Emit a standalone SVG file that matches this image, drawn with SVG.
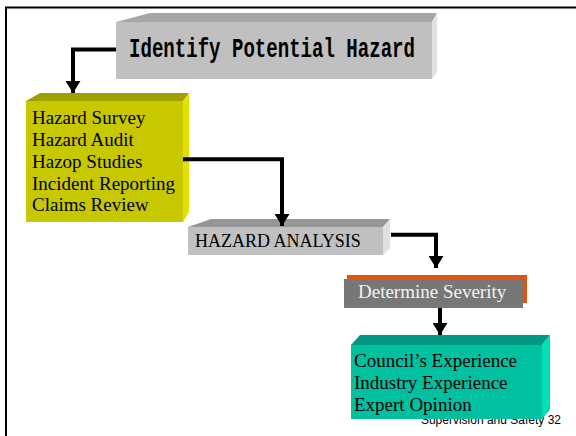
<svg xmlns="http://www.w3.org/2000/svg" width="576" height="436" viewBox="0 0 576 436">
  <defs>
    <marker id="arrow" markerUnits="userSpaceOnUse" markerWidth="12" markerHeight="15" viewBox="0 0 12 15" refX="12" refY="7.5" orient="auto">
      <path d="M0,0 L12,7.5 L0,15 Z" fill="#000"/>
    </marker>
  </defs>
  <style>
    .frame { stroke: #000; stroke-width: 2; fill: none; }
    .conn { stroke: #000; stroke-width: 4; fill: none; marker-end: url(#arrow); }
    .serif { font-family: "Liberation Serif", "Times New Roman", serif; fill: #000; }
    .title { font-family: "Liberation Mono", "Courier New", monospace; font-weight: bold; font-size: 27px; fill: #000; }
    .foot { font-family: "Liberation Sans", Arial, sans-serif; font-size: 12px; fill: #000; }
  </style>

  <rect width="576" height="436" fill="#fff"/>

  <!-- slide frame -->
  <path class="frame" d="M6,436 V7.5 H576"/>

  <!-- footer (partly covered by the lower box) -->
  <text class="foot" x="561" y="424" text-anchor="end">Supervision and Safety 32</text>

  <g id="identify-hazard">
    <polygon points="116,22 150,13 437,13 432,22" fill="#a6a6a6"/>
    <polygon points="432,22 437,13 437,72 432,79" fill="#e2e2e2"/>
    <rect x="116" y="22" width="316" height="57" fill="#c0c0c0"/>
    <text class="title" x="129" y="57" textLength="286" lengthAdjust="spacingAndGlyphs">Identify Potential Hazard</text>
  </g>

  <g id="hazard-sources">
    <polygon points="26,101 40,93 189,93 183,101" fill="#a0a000"/>
    <polygon points="183,101 189,93 189,212 183,222" fill="#e2e200"/>
    <rect x="26" y="101" width="157" height="121" fill="#c8c800"/>
    <text class="serif" font-size="19">
      <tspan x="32" y="124">Hazard Survey</tspan>
      <tspan x="32" y="146">Hazard Audit</tspan>
      <tspan x="32" y="168">Hazop Studies</tspan>
      <tspan x="32" y="190">Incident  Reporting</tspan>
      <tspan x="32" y="211">Claims Review</tspan>
    </text>
  </g>

  <g id="hazard-analysis">
    <polygon points="188,227 211,219 390,219 383,227" fill="#969696"/>
    <polygon points="383,227 390,219 390,248 383,255" fill="#e0e0e0"/>
    <rect x="188" y="227" width="195" height="28" fill="#c0c0c0"/>
    <text class="serif" font-size="18" x="195" y="247">HAZARD ANALYSIS</text>
  </g>

  <g id="determine-severity">
    <rect x="347" y="275" width="180" height="28" fill="#dd5511"/>
    <rect x="344" y="279" width="179" height="29" fill="#777777"/>
    <text class="serif" font-size="19" x="358" y="298" style="fill:#f2f2f2">Determine Severity</text>
  </g>

  <g id="severity-inputs">
    <polygon points="351,345 360,335 550,335 542,345" fill="#009880"/>
    <polygon points="542,345 550,335 550,410 542,419" fill="#00e0b8"/>
    <rect x="351" y="345" width="191" height="74" fill="#00c0a0"/>
    <text class="serif" font-size="19">
      <tspan x="354" y="367">Council’s Experience</tspan>
      <tspan x="354" y="389">Industry Experience</tspan>
      <tspan x="354" y="411">Expert Opinion</tspan>
    </text>
  </g>

  <g id="connectors">
    <path class="conn" d="M116,49.5 H73 V93"/>
    <path class="conn" d="M183,159.3 H282 V226"/>
    <path class="conn" d="M391,234.7 H436 V268"/>
    <path class="conn" d="M440,308 V335"/>
  </g>
</svg>
